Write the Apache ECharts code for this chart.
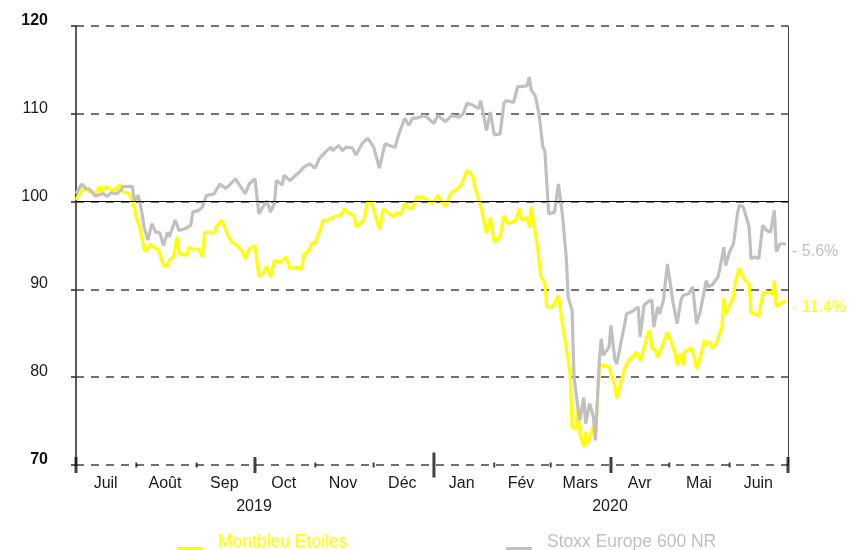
<!DOCTYPE html>
<html>
<head>
<meta charset="utf-8">
<script src="https://cdn.jsdelivr.net/npm/echarts@6/dist/echarts.min.js"></script>
<style>html,body{margin:0;padding:0;background:#fff;}#c{width:852px;height:550px;}</style>
</head>
<body>
<div id="c"></div>
<script>
var seriesNames = ['Montbleu Etoiles', 'Stoxx Europe 600 NR'];
var endLabels = ['- 11.4%', '- 5.6%'];
var monthLabels = ['Juil','Août','Sep','Oct','Nov','Déc','Jan','Fév','Mars','Avr','Mai','Juin'];
var yearLabels = ['2019','2020'];
var yTicks = [70, 80, 90, 100, 110, 120];
var monthTickDates = ['2019-08-01','2019-09-01','2019-11-01','2019-12-01','2020-02-01','2020-03-01','2020-05-01','2020-06-01'];
var quarterTickDates = ['2019-07-01','2019-10-01','2020-04-01','2020-07-01'];
var yearTickDates = ['2020-01-01'];

var yellowDates = ['2019-07-01','2019-07-04','2019-07-06','2019-07-09','2019-07-11','2019-07-13','2019-07-14','2019-07-16','2019-07-18','2019-07-19','2019-07-21','2019-07-24','2019-07-25','2019-07-28','2019-07-30','2019-07-31',
'2019-08-01','2019-08-03','2019-08-05','2019-08-06','2019-08-08','2019-08-10','2019-08-12','2019-08-13','2019-08-15','2019-08-17','2019-08-18','2019-08-20','2019-08-22','2019-08-23','2019-08-24','2019-08-27','2019-08-28','2019-08-30',
'2019-09-02','2019-09-04','2019-09-05','2019-09-08','2019-09-10','2019-09-11','2019-09-14','2019-09-17','2019-09-19','2019-09-22','2019-09-24','2019-09-26','2019-09-28',
'2019-10-01','2019-10-03','2019-10-05','2019-10-07','2019-10-09','2019-10-11','2019-10-14','2019-10-17','2019-10-19','2019-10-23','2019-10-25','2019-10-26','2019-10-29','2019-10-30',
'2019-11-01','2019-11-04','2019-11-05','2019-11-07','2019-11-09','2019-11-11','2019-11-14','2019-11-16','2019-11-18','2019-11-21','2019-11-22','2019-11-24','2019-11-26','2019-11-28','2019-11-30',
'2019-12-02','2019-12-04','2019-12-06','2019-12-09','2019-12-11','2019-12-13','2019-12-15','2019-12-17','2019-12-19','2019-12-21','2019-12-23','2019-12-26','2019-12-28','2019-12-31',
'2020-01-03','2020-01-05','2020-01-07','2020-01-10','2020-01-13','2020-01-15','2020-01-18','2020-01-21','2020-01-22','2020-01-24','2020-01-26','2020-01-28','2020-01-30',
'2020-02-01','2020-02-04','2020-02-06','2020-02-08','2020-02-10','2020-02-12','2020-02-14','2020-02-15','2020-02-18','2020-02-19','2020-02-20','2020-02-23','2020-02-25','2020-02-27','2020-02-28',
'2020-03-02','2020-03-05','2020-03-07','2020-03-09','2020-03-11','2020-03-12','2020-03-14','2020-03-15','2020-03-16','2020-03-18','2020-03-19','2020-03-20','2020-03-23','2020-03-24','2020-03-26','2020-03-27','2020-03-31',
'2020-04-01','2020-04-03','2020-04-04','2020-04-06','2020-04-08','2020-04-10','2020-04-13','2020-04-14','2020-04-16','2020-04-18','2020-04-20','2020-04-21','2020-04-22','2020-04-24','2020-04-25','2020-04-27','2020-04-30',
'2020-05-02','2020-05-04','2020-05-05','2020-05-07','2020-05-08','2020-05-09','2020-05-12','2020-05-14','2020-05-15','2020-05-17','2020-05-19','2020-05-20','2020-05-22','2020-05-23','2020-05-25','2020-05-26','2020-05-28','2020-05-29','2020-05-30',
'2020-06-01','2020-06-03','2020-06-04','2020-06-06','2020-06-07','2020-06-09','2020-06-11','2020-06-12','2020-06-13','2020-06-16','2020-06-18','2020-06-20','2020-06-23','2020-06-24','2020-06-25','2020-06-27','2020-06-30'];
var yellowValues = [100.2,101.3,101.3,101.1,100.9,101.7,101.1,101.7,101.5,101.7,101.3,102.0,101.1,101.0,100.1,99.4,
98.2,96.9,94.6,94.3,95.2,94.8,94.6,94.1,92.7,92.7,93.3,93.7,96.0,94.1,93.9,93.9,94.8,94.6,
94.6,93.7,96.5,96.5,96.4,97.1,97.9,96.2,95.4,95.0,94.5,93.5,94.6,
95.0,91.5,91.8,92.6,91.4,93.3,93.1,93.7,92.4,92.5,92.3,93.9,94.5,95.2,
95.3,97.1,97.9,97.8,98.1,98.3,98.4,99.2,98.7,98.4,97.1,97.5,97.9,100.1,99.8,
98.3,96.9,99.2,98.6,98.3,98.7,98.6,99.8,99.2,99.2,100.5,100.5,100.3,99.8,
100.7,100.0,99.5,101.1,101.4,101.9,103.6,102.9,101.7,100.3,98.6,96.4,98.2,
95.4,96.0,98.4,97.5,97.7,97.8,99.2,97.9,98.2,97.1,99.4,95.2,91.4,90.7,88.0,
88.0,89.3,86.1,83.4,80.4,74.3,74.1,76.6,73.6,72.1,73.8,72.4,74.5,73.2,81.0,81.4,81.2,
81.3,79.0,77.6,79.3,81.0,81.9,82.5,82.9,81.9,83.4,85.0,85.3,83.3,83.1,82.3,83.4,85.1,
84.0,82.7,81.4,82.7,81.4,82.9,83.3,82.3,81.0,82.3,84.2,83.8,84.0,83.3,83.8,84.4,85.7,89.0,87.2,
88.2,89.1,91.0,92.4,91.8,91.0,90.7,87.4,87.6,87.0,89.5,89.7,89.5,91.0,88.0,88.4,88.7];

var greyDates = ['2019-07-01','2019-07-04','2019-07-06','2019-07-08','2019-07-11','2019-07-13','2019-07-15','2019-07-17','2019-07-19','2019-07-22','2019-07-24','2019-07-25','2019-07-28','2019-07-30','2019-07-31',
'2019-08-02','2019-08-04','2019-08-05','2019-08-07','2019-08-09','2019-08-11','2019-08-13','2019-08-15','2019-08-17','2019-08-18','2019-08-21','2019-08-23','2019-08-26','2019-08-29','2019-08-30',
'2019-09-02','2019-09-04','2019-09-06','2019-09-08','2019-09-10','2019-09-13','2019-09-16','2019-09-18','2019-09-21','2019-09-23','2019-09-26','2019-09-28',
'2019-10-01','2019-10-03','2019-10-04','2019-10-07','2019-10-09','2019-10-11','2019-10-12','2019-10-15','2019-10-16','2019-10-19','2019-10-22','2019-10-24','2019-10-26','2019-10-29',
'2019-11-01','2019-11-03','2019-11-06','2019-11-09','2019-11-10','2019-11-13','2019-11-15','2019-11-17','2019-11-20','2019-11-22','2019-11-25','2019-11-28',
'2019-12-01','2019-12-04','2019-12-06','2019-12-07','2019-12-09','2019-12-12','2019-12-14','2019-12-17','2019-12-19','2019-12-21','2019-12-23','2019-12-27','2019-12-29',
'2020-01-01','2020-01-03','2020-01-07','2020-01-10','2020-01-14','2020-01-16','2020-01-18','2020-01-21','2020-01-24','2020-01-25','2020-01-27','2020-01-28','2020-01-30',
'2020-02-01','2020-02-04','2020-02-06','2020-02-07','2020-02-11','2020-02-13','2020-02-15','2020-02-18','2020-02-19','2020-02-20','2020-02-22','2020-02-24','2020-02-26','2020-02-27','2020-02-29',
'2020-03-03','2020-03-05','2020-03-07','2020-03-09','2020-03-10','2020-03-12','2020-03-13','2020-03-15','2020-03-16','2020-03-18','2020-03-19','2020-03-21','2020-03-23','2020-03-24','2020-03-26','2020-03-27','2020-03-28','2020-03-31',
'2020-04-01','2020-04-03','2020-04-04','2020-04-06','2020-04-08','2020-04-09','2020-04-12','2020-04-15','2020-04-16','2020-04-18','2020-04-20','2020-04-22','2020-04-23','2020-04-25','2020-04-26','2020-04-28','2020-04-30',
'2020-05-02','2020-05-03','2020-05-05','2020-05-07','2020-05-08','2020-05-11','2020-05-13','2020-05-15','2020-05-17','2020-05-20','2020-05-21','2020-05-23','2020-05-26','2020-05-27','2020-05-29','2020-05-30',
'2020-06-01','2020-06-03','2020-06-05','2020-06-06','2020-06-08','2020-06-10','2020-06-11','2020-06-12','2020-06-14','2020-06-16','2020-06-18','2020-06-20','2020-06-22','2020-06-24','2020-06-25','2020-06-27','2020-06-30'];
var greyValues = [100.9,102.0,101.5,101.4,100.6,100.8,100.9,100.6,101.0,100.9,101.3,101.7,101.7,101.7,100.1,
100.7,98.6,97.1,95.6,97.5,96.5,96.5,95.0,96.5,96.0,97.9,96.7,96.9,97.3,98.8,
99.0,99.4,100.7,100.8,100.9,102.0,101.5,101.9,102.6,101.9,100.9,102.0,
102.6,98.6,99.0,100.1,98.8,99.8,102.4,101.9,103.0,102.4,103.0,103.4,103.9,104.3,
103.8,104.9,105.6,106.2,105.8,106.4,105.8,106.2,106.1,105.3,106.6,107.2,
106.2,103.8,105.8,106.6,106.4,106.2,107.7,109.5,108.7,109.5,109.5,109.8,109.5,
108.9,109.8,109.1,109.8,109.6,110.0,111.2,111.0,110.6,111.5,109.3,108.1,110.2,
107.6,107.7,111.2,111.5,111.3,113.1,113.1,113.2,114.2,112.7,112.1,110.0,106.2,105.8,98.6,
98.8,102.0,98.6,93.7,89.1,87.6,80.0,76.6,75.1,77.7,74.7,77.0,75.5,72.8,81.9,84.4,82.5,83.4,
85.9,82.0,81.5,83.8,86.0,87.2,87.5,88.0,84.6,88.2,88.6,88.8,85.7,88.0,87.2,88.8,92.9,
89.9,88.4,86.1,88.8,89.3,89.5,90.3,86.1,87.6,91.0,90.3,90.5,91.4,92.4,94.8,92.7,
94.3,95.2,98.6,99.6,99.4,97.9,97.1,93.5,93.7,93.5,97.3,96.7,96.5,99.0,94.3,95.2,95.2];

var YELLOW = '#ffff00', GREY = '#c0c0c0', FONT = 'Liberation Sans';
var LEGEND_ICON = 'path://M0,0 M0,12 L26,12 L26,15 L0,15 Z';

function zip(d, v) { return d.map(function (x, i) { return [x, v[i]]; }); }
function ticks(d) { return d.map(function (x) { return [x, yTicks[0]]; }); }

var chart = echarts.init(document.getElementById('c'), null, {renderer: 'canvas'});
var axisBase = {position: 'bottom', axisLine: {show: false}, axisTick: {show: false}, splitLine: {show: false}};
function legendFor(i, left, color) {
  return {left: left, top: 532, padding: 0,
    data: [{name: seriesNames[i], icon: LEGEND_ICON, itemStyle: {color: color}}],
    itemWidth: 26, itemHeight: 15, itemStyle: {color: color},
    textStyle: {color: color, fontSize: 17.5, fontFamily: FONT, lineHeight: 21, padding: [0, 0, 0, 10]}};
}
chart.setOption({
  animation: false,
  textStyle: {fontFamily: FONT},
  grid: {left: 76, right: 64, top: 26, bottom: 85, containLabel: false},
  legend: [legendFor(0, 177, YELLOW), legendFor(1, 506, GREY)],
  xAxis: [
    {type: 'time', min: '2019-07-01', max: '2020-07-01', show: false},
    Object.assign({type: 'category', data: monthLabels, boundaryGap: true,
      axisLabel: {color: '#1a1a1a', fontSize: 16, fontFamily: FONT, margin: 11, interval: 0}}, axisBase),
    Object.assign({type: 'category', data: yearLabels, boundaryGap: true,
      axisLabel: {color: '#1a1a1a', fontSize: 16, fontFamily: FONT, margin: 34, interval: 0}}, axisBase)
  ],
  yAxis: [
    {type: 'value', min: 70, max: 120, interval: 10, position: 'left',
     axisLine: {show: true, lineStyle: {color: '#333', width: 1.6}},
     axisTick: {show: true, length: 5, lineStyle: {color: '#333', width: 1.6}},
     splitLine: {show: true, lineStyle: {color: '#444', width: 1.5, type: [8, 7]}},
     axisLabel: {margin: 28, padding: [0, 0, 11, 0], color: '#1a1a1a', fontSize: 16, fontFamily: FONT,
       formatter: function (v) { return (v === 120 || v === 70) ? '{b|' + v + '}' : '{n|' + v + '}'; },
       rich: {b: {fontWeight: 'bold', fontSize: 16, fontFamily: FONT, color: '#111'},
              n: {fontSize: 16, fontFamily: FONT, color: '#1a1a1a'}}}},
    {type: 'value', min: 70, max: 120, interval: 10, position: 'right',
     axisLine: {show: true, lineStyle: {color: '#444', width: 1}},
     axisTick: {show: false}, axisLabel: {show: false}, splitLine: {show: false}}
  ],
  series: [
    {name: seriesNames[0], type: 'line', xAxisIndex: 0, yAxisIndex: 0, data: zip(yellowDates, yellowValues),
     showSymbol: false, symbol: 'none', color: YELLOW, lineStyle: {color: YELLOW, width: 3.2}, z: 3,
     endLabel: {show: true, formatter: endLabels[0], color: YELLOW, fontSize: 16, fontFamily: FONT, distance: 6, offset: [0, 7]},
     markLine: {silent: true, symbol: 'none', label: {show: false},
       lineStyle: {color: '#000', width: 1.2, type: 'solid'}, data: [{yAxis: 100}]}},
    {name: seriesNames[1], type: 'line', xAxisIndex: 0, yAxisIndex: 0, data: zip(greyDates, greyValues),
     showSymbol: false, symbol: 'none', color: GREY, lineStyle: {color: GREY, width: 3.2}, z: 4,
     endLabel: {show: true, formatter: endLabels[1], color: GREY, fontSize: 16, fontFamily: FONT, distance: 6, offset: [0, 8]}},
    {type: 'scatter', xAxisIndex: 0, yAxisIndex: 0, data: ticks(monthTickDates), symbol: 'rect', symbolSize: [2, 5],
     itemStyle: {color: '#111'}, silent: true, clip: false, z: 6},
    {type: 'scatter', xAxisIndex: 0, yAxisIndex: 0, data: ticks(quarterTickDates), symbol: 'rect', symbolSize: [3, 16],
     itemStyle: {color: '#111'}, silent: true, clip: false, z: 6},
    {type: 'scatter', xAxisIndex: 0, yAxisIndex: 0, data: ticks(yearTickDates), symbol: 'rect', symbolSize: [3, 25],
     itemStyle: {color: '#111'}, silent: true, clip: false, z: 6}
  ]
});
</script>
</body>
</html>
